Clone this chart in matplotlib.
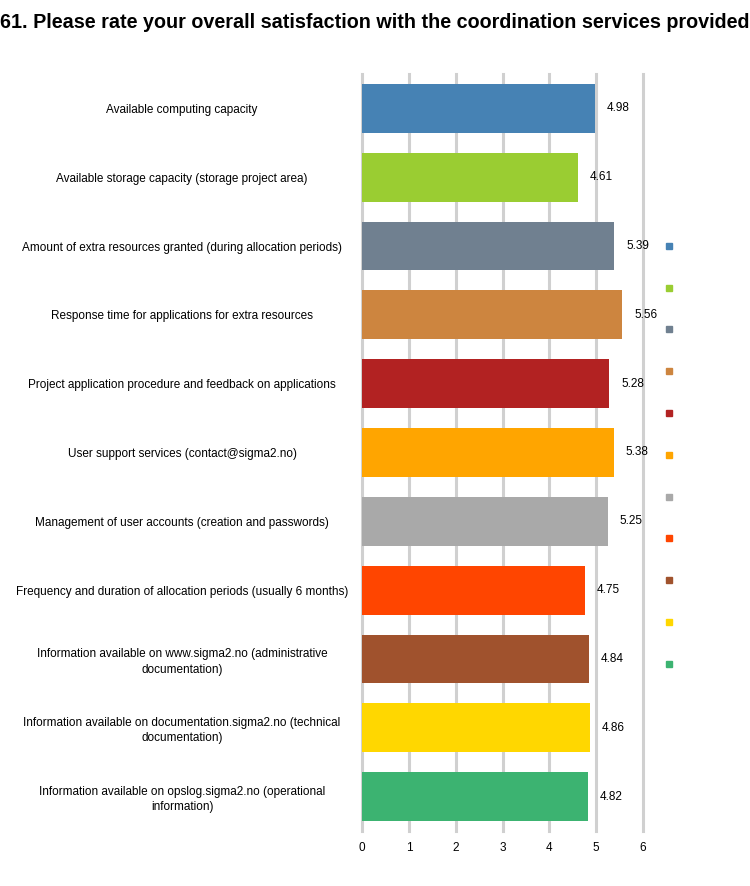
import matplotlib
matplotlib.use("Agg")
import matplotlib.pyplot as plt
from matplotlib.lines import Line2D

plt.rcParams['font.family'] = ['Liberation Sans', 'DejaVu Sans']

title = "61. Please rate your overall satisfaction with the coordination services provided"
categories = [
    "Available computing capacity",
    "Available storage capacity (storage project area)",
    "Amount of extra resources granted (during allocation periods)",
    "Response time for applications for extra resources",
    "Project application procedure and feedback on applications",
    "User support services (contact@sigma2.no)",
    "Management of user accounts (creation and passwords)",
    "Frequency and duration of allocation periods (usually 6 months)",
    "Information available on www.sigma2.no (administrative\ndocumentation)",
    "Information available on documentation.sigma2.no (technical\ndocumentation)",
    "Information available on opslog.sigma2.no (operational\ninformation)",
]
values = [4.98, 4.61, 5.39, 5.56, 5.28, 5.38, 5.25, 4.75, 4.84, 4.86, 4.82]
colors = ["#4682B4", "#9ACD32", "#708090", "#CD853F", "#B22222", "#FFA500",
          "#A9A9A9", "#FF4500", "#A0522D", "#FFD700", "#3CB371"]
xticks = [0, 1, 2, 3, 4, 5, 6]

fig = plt.figure(figsize=(7.5, 8.86), dpi=100)
ax = fig.add_axes([0.4827, 0.0621, 0.3747, 0.8544])

ypos = list(range(len(categories)))
bars = ax.barh(ypos, values, height=0.71, color=colors, zorder=3)
ax.bar_label(bars, labels=[f"{v:.2f}" for v in values], padding=8.5, fontsize=8.5, color="#000000")

ax.set_ylim(len(categories) - 0.5, -0.5)
ax.set_xlim(0, 6)
ax.set_xticks(xticks)
ax.set_xticklabels([str(t) for t in xticks], fontsize=8.5)
ax.set_yticks(ypos)
ax.set_yticklabels(categories, fontsize=8.5, ha="center", multialignment="center", linespacing=1.35)
ax.tick_params(axis="y", length=0, pad=129.6)
ax.tick_params(axis="x", length=0, pad=8)
ax.grid(axis="x", color="#d0d0d0", linewidth=2.2, zorder=0)
ax.grid(axis="y", visible=False)
for gl in ax.get_xgridlines():
    gl.set_clip_on(False)
for s in ax.spines.values():
    s.set_visible(False)

handles = [Line2D([], [], marker="s", linestyle="", color=c, markersize=4.5) for c in colors]
fig.legend(handles, [""] * len(colors), loc="upper left", bbox_to_anchor=(0.8755, 0.7372),
           frameon=False, fontsize=10, labelspacing=2.0, handlelength=0.8,
           handletextpad=0.0, borderpad=0)

fig.text(0.0, 0.985, title, ha="left", va="top", fontsize=14.25, fontweight="bold")

fig.savefig("out.png", dpi=100)
